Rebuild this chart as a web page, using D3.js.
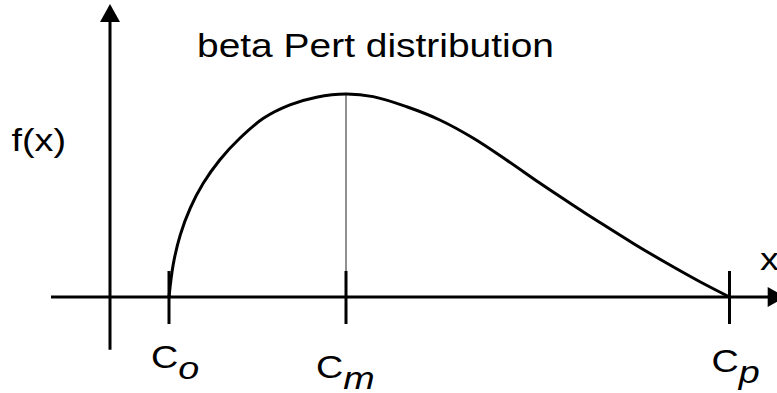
<!DOCTYPE html>
<html>
<head>
<meta charset="utf-8">
<script src="https://cdn.jsdelivr.net/npm/d3@7"></script>
<style>
  body { margin: 0; background: #fff; }
  text { font-family: "Liberation Sans", Arial, sans-serif; fill: #000; }
</style>
</head>
<body>
<div id="chart"></div>
<script>
// curve: x in axis units (y axis at 0), y relative to the peak
const curveX = [1.0, 1.07, 1.19, 1.36, 1.58, 1.86, 2.2, 2.6, 3.05, 3.5, 4.0,
                4.46, 5.03, 5.59, 6.16, 6.72, 7.29, 7.85, 8.31, 8.87, 9.44, 10.0, 10.5];
const curveY = [0, 0.158, 0.305, 0.438, 0.56, 0.675, 0.782, 0.88, 0.946, 0.984, 1.0,
                0.987, 0.937, 0.872, 0.782, 0.675, 0.56, 0.452, 0.366, 0.264, 0.166, 0.075, 0];

// the three marked points on the x axis
const tickNames = ["o", "m", "p"];
const tickValues = [1, 4, 10.5];
const modeValue = 4;
const modeDensity = 1;

const titleText = "beta Pert distribution";
const yLabel = "f(x)";
const xLabel = "x";

// layout
const W = 777, H = 393;
const stretch = 1.18;   // text in the picture is a bit wide
const tickUp = 26, tickDown = 27;
const labelOffsets = [[-18, 71], [-30, 81], [-18, 75]];

const x = d3.scaleLinear().domain([0, 1]).range([110, 169]);
const y = d3.scaleLinear().domain([0, 1]).range([297, 94]);

const svg = d3.select("#chart")
    .append("svg")
    .attr("width", W)
    .attr("height", H);

// x axis with arrow
const x0 = x(-1), xEnd = x(11.3);
svg.append("line")
    .attr("x1", x0).attr("x2", xEnd - 6)
    .attr("y1", y(0)).attr("y2", y(0))
    .attr("stroke", "#000").attr("stroke-width", 3);
svg.append("path")
    .attr("d", `M${xEnd - 9},${y(0) - 10}L${xEnd + 9},${y(0)}L${xEnd - 9},${y(0) + 10}Z`)
    .attr("fill", "#000");

// y axis with arrow
const yTop = y(1.443);
svg.append("line")
    .attr("x1", x(0)).attr("x2", x(0))
    .attr("y1", y(-0.26)).attr("y2", yTop + 12)
    .attr("stroke", "#000").attr("stroke-width", 3);
svg.append("path")
    .attr("d", `M${x(0) - 10},${yTop + 18}L${x(0)},${yTop}L${x(0) + 10},${yTop + 18}Z`)
    .attr("fill", "#000");

// thin line from the peak down to the mode tick
svg.append("line")
    .attr("x1", x(modeValue)).attr("x2", x(modeValue))
    .attr("y1", y(modeDensity)).attr("y2", y(0) - tickUp)
    .attr("stroke", "#222").attr("stroke-width", 1);

// ticks
svg.append("g").selectAll("line")
    .data(tickValues)
    .enter()
    .append("line")
    .attr("x1", d => x(d)).attr("x2", d => x(d))
    .attr("y1", y(0) - tickUp).attr("y2", y(0) + tickDown)
    .attr("stroke", "#000").attr("stroke-width", 3);

// density curve
const pts = curveX.map((v, i) => [v, curveY[i]]);
svg.append("path")
    .datum(pts)
    .attr("d", d3.line().x(d => x(d[0])).y(d => y(d[1])).curve(d3.curveCatmullRom.alpha(0.5)))
    .attr("fill", "none")
    .attr("stroke", "#000")
    .attr("stroke-width", 3);

// helper for the wide text
function label(px, py, size) {
    return svg.append("g")
        .attr("transform", `translate(${px},${py}) scale(${stretch},1)`)
        .append("text")
        .style("font-size", size + "px");
}

label(197, 57, 33).text(titleText);
label(11.5, 151, 32).text(yLabel);
label(760, 270, 32).text(xLabel);

tickNames.forEach((name, i) => {
    const t = label(x(tickValues[i]) + labelOffsets[i][0], y(0) + labelOffsets[i][1], 32);
    t.append("tspan").text("C");
    t.append("tspan")
        .attr("dy", 11)
        .style("font-style", "italic")
        .text(name);
});
</script>
</body>
</html>
